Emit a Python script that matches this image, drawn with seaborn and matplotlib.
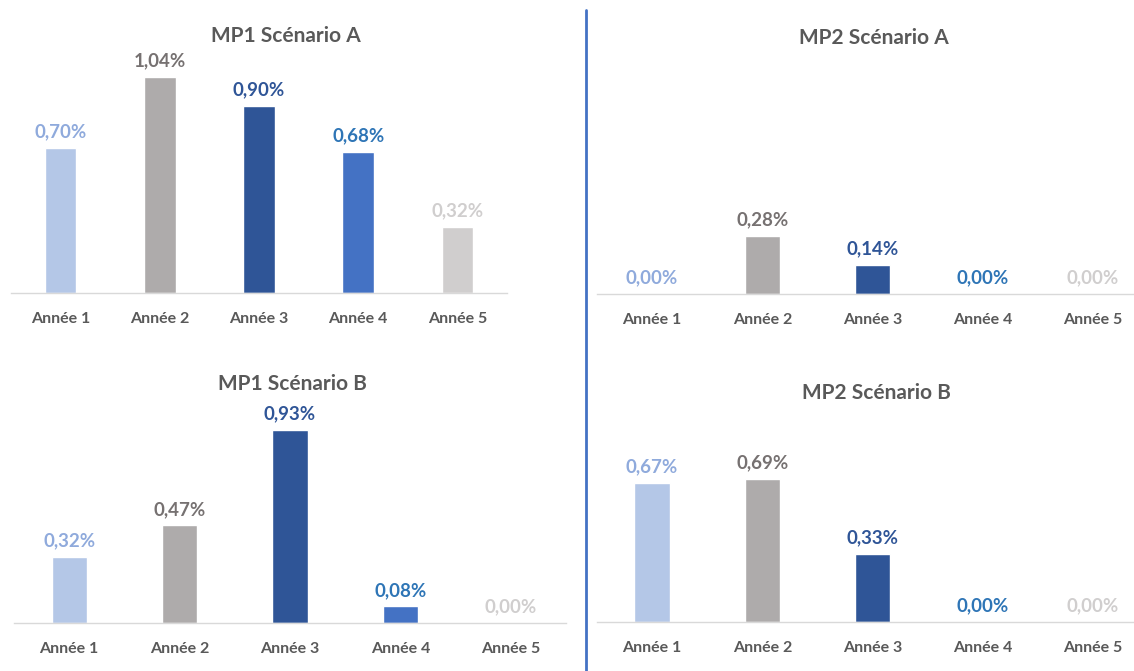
import matplotlib
matplotlib.use("Agg")
import matplotlib.pyplot as plt
import seaborn as sns
import pandas as pd
from matplotlib.lines import Line2D

# Yearly rates (%) per portfolio and scenario
years = ["Année 1", "Année 2", "Année 3", "Année 4", "Année 5"]
mp1_a = [0.70, 1.04, 0.90, 0.68, 0.32]
mp2_a = [0.00, 0.28, 0.14, 0.00, 0.00]
mp1_b = [0.32, 0.47, 0.93, 0.08, 0.00]
mp2_b = [0.67, 0.69, 0.33, 0.00, 0.00]
titles = ["MP1 Scénario A", "MP2 Scénario A", "MP1 Scénario B", "MP2 Scénario B"]

bar_colors = ["#B4C7E7", "#AEABAB", "#2F5597", "#4472C4", "#D0CECE"]
label_colors = ["#8FAADC", "#767171", "#2F5597", "#2E75B6", "#D0CECE"]
text_grey = "#595959"

sns.set_theme(style="white")
plt.rcParams["font.family"] = ["Lato", "DejaVu Sans"]

W, H = 1134, 671
fig = plt.figure(figsize=(W / 100, H / 100), dpi=100)
fig.patch.set_facecolor("white")

# panel geometry in pixels: left, right, baseline, title centre x, title y
panels = [
    (mp1_a, 11, 507, 293, 286, 36),
    (mp2_a, 597, 1148, 294, 874, 38),
    (mp1_b, 14, 566, 623, 292, 384),
    (mp2_b, 597, 1148, 622, 876, 393),
]
ymax = 1.2
px_per_unit = 207.5

for (vals, left, right, base, tx, ty), title in zip(panels, titles):
    top = base - ymax * px_per_unit
    ax = fig.add_axes([left / W, (H - base) / H, (right - left) / W, (base - top) / H])
    df = pd.DataFrame({"year": years, "rate": vals})
    sns.barplot(data=df, x="year", y="rate", hue="year", palette=bar_colors,
                width=0.32, legend=False, ax=ax, saturation=1, dodge=False)
    ax.set_ylim(0, ymax)
    ax.set_xlim(-0.5, 4.5)
    ax.set_xlabel("")
    ax.set_ylabel("")
    ax.set_yticks([])
    for s in ["top", "left", "right"]:
        ax.spines[s].set_visible(False)
    ax.spines["bottom"].set_color("#D9D9D9")
    ax.spines["bottom"].set_linewidth(1.0)
    ax.tick_params(axis="x", length=0, pad=13.5, labelsize=11.5, labelcolor=text_grey)
    for lab in ax.get_xticklabels():
        lab.set_fontweight("bold")
    ax.patch.set_alpha(0)
    for i, v in enumerate(vals):
        ax.annotate(f"{v:.2f}".replace(".", ",") + "%", xy=(i, v),
                    xytext=(0, 16), textcoords="offset pixels",
                    ha="center", va="center", fontsize=13.5, fontweight="bold",
                    color=label_colors[i])
    fig.text(tx / W, 1 - ty / H, title, ha="center", va="center",
             fontsize=15, fontweight="bold", color=text_grey)

# vertical separator between the two portfolios
fig.add_artist(Line2D([585.5 / W, 585.5 / W], [0, 1 - 10 / H],
                      transform=fig.transFigure, color="#4472C4", linewidth=2))

fig.savefig("out.png", dpi=100, facecolor="white")
